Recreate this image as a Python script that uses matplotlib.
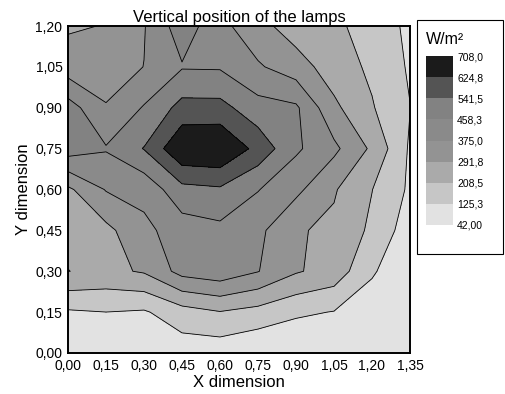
import numpy as np
import matplotlib
matplotlib.use("Agg")
import matplotlib.pyplot as plt
from matplotlib.colors import ListedColormap, BoundaryNorm
from matplotlib.patches import Rectangle

# ---- data ----
x_dim = [0.00, 0.15, 0.30, 0.45, 0.60, 0.75, 0.90, 1.05, 1.20, 1.35]
y_dim = [0.00, 0.15, 0.30, 0.45, 0.60, 0.75, 0.90, 1.05, 1.20]

row_y000 = [50, 55, 55, 78, 74, 48, 44, 44, 44, 44]
row_y015 = [115, 125, 116, 174, 205, 180, 140, 122, 90, 70]
row_y030 = [293, 272, 300, 404, 429, 378, 300, 259, 133, 74]
row_y045 = [272, 270, 355, 416, 437, 395, 300, 275, 192, 81]
row_y060 = [276, 380, 400, 516, 530, 462, 395, 300, 210, 112]
row_y075 = [501, 465, 545, 700, 708, 598, 472, 394, 277, 114]
row_y090 = [497, 380, 465, 570, 569, 490, 472, 310, 215, 127]
row_y105 = [330, 340, 376, 452, 450, 385, 330, 250, 193, 115]
row_y120 = [282, 295, 370, 505, 400, 320, 250, 225, 175, 107]

levels = [42.0, 125.3, 208.5, 291.8, 375.0, 458.3, 541.5, 624.8, 708.0]
level_labels = ["42,00", "125,3", "208,5", "291,8", "375,0",
                "458,3", "541,5", "624,8", "708,0"]
band_colors = ["#e2e2e2", "#c6c6c6", "#aaaaaa", "#939393",
               "#8a8a8a", "#828282", "#545454", "#1b1b1b"]
x_tick_labels = ["0,00", "0,15", "0,30", "0,45", "0,60",
                 "0,75", "0,90", "1,05", "1,20", "1,35"]
y_tick_labels = ["0,00", "0,15", "0,30", "0,45", "0,60",
                 "0,75", "0,90", "1,05", "1,20"]

plt.rcParams['font.family'] = ['Liberation Sans', 'DejaVu Sans']

W, H = 505, 394
fig = plt.figure(figsize=(W / 100, H / 100), dpi=100)
ax = fig.add_axes([68 / W, (H - 353) / H, (410 - 68) / W, (353 - 26) / H])

Z = np.array([row_y000, row_y015, row_y030, row_y045, row_y060,
              row_y075, row_y090, row_y105, row_y120], dtype=float)

cmap = ListedColormap(band_colors)
norm = BoundaryNorm(levels, cmap.N)
cf = ax.contourf(x_dim, y_dim, Z, levels=levels, cmap=cmap, norm=norm)
ax.contour(x_dim, y_dim, Z, levels=levels[1:-1], colors='black',
           linewidths=0.6)

ax.set_xlim(0, 1.35)
ax.set_ylim(0, 1.20)
ax.set_xticks(x_dim)
ax.set_xticklabels(x_tick_labels, fontsize=10)
ax.set_yticks(y_dim)
ax.set_yticklabels(y_tick_labels, fontsize=10)
ax.tick_params(length=0, pad=4)
for s in ax.spines.values():
    s.set_linewidth(1.4)

ax.set_title("Vertical position of the lamps", fontsize=12, pad=3)
ax.set_xlabel("X dimension", fontsize=12, labelpad=2)
ax.set_ylabel("Y dimension", fontsize=12, labelpad=3)

# legend box
fig.patches.append(Rectangle((417 / W, (H - 254) / H), (503 - 417) / W,
                             (254 - 20) / H, transform=fig.transFigure,
                             fill=False, edgecolor='black', lw=0.8))
fig.text(426 / W, (H - 40) / H, "W/m²", fontsize=11.5, va='center', ha='left')

cax = fig.add_axes([426 / W, (H - 225) / H, (453 - 426) / W, (225 - 56) / H])
cb = fig.colorbar(cf, cax=cax, ticks=levels)
cb.ax.set_yticklabels(level_labels, fontsize=7.5)
cb.outline.set_visible(False)
cb.ax.tick_params(length=0, pad=3)

fig.savefig("out.png", dpi=100)
